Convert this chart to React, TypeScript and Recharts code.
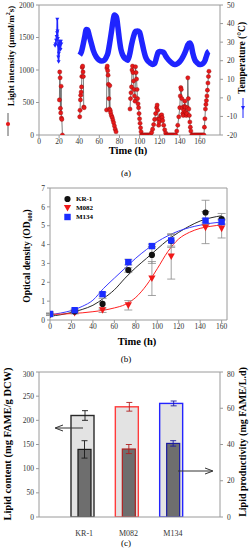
import React from 'react';
import { ComposedChart, Line, Bar, XAxis, YAxis, ReferenceLine, ErrorBar } from 'recharts';

// (a) light intensity (µmol/m2s), [time h, value], one list per light period
const lightDay1 = [[20.3, 540], [20.6, 970], [21.0, 880], [21.3, 410], [21.6, 340], [22.0, 750], [22.3, 260], [22.7, 240], [23.3, 0]];
const lightDay2 = [[40.5, 280], [40.8, 380], [41.2, 540], [41.5, 610], [41.9, 660], [42.3, 740], [42.6, 900], [43.0, 1040], [43.4, 1060], [43.8, 970], [44.1, 900], [44.5, 430], [44.9, 420]];
const lightDay3 = [[67.2, 385], [67.5, 1030], [67.9, 1060], [68.3, 990], [68.7, 920], [69.1, 780], [69.5, 560], [70.0, 400], [70.4, 760], [70.8, 380], [71.3, 340], [72.0, 300], [72.8, 270], [73.5, 230], [74.2, 190], [75.0, 140], [75.8, 90], [76.6, 50]];
const lightDay4 = [[90.5, 400], [91, 560], [91.5, 650], [92, 740], [92.5, 1000], [93, 1060], [93.5, 960], [94, 830], [94.5, 700], [95, 600], [95.5, 520], [96, 1050], [96.5, 960], [97, 860], [97.5, 700], [98, 560], [98.5, 480], [99, 420], [99.5, 330], [100, 250], [100.5, 180], [101, 110], [101.5, 50], [102, 0], [103, 0], [104, 0], [105, 0], [106, 0], [107, 0], [108, 0], [109, 0], [110, 0]];
const lightDay5 = [[111, 0], [112, 40], [113, 90], [114, 160], [115, 240], [116, 330], [117, 420], [117.5, 460], [118, 380], [118.5, 250], [119, 150], [119.5, 200], [120, 250], [121, 300], [122, 310], [122.5, 270], [123, 220], [124, 150], [125, 80], [126, 30], [127, 0], [128, 0], [129, 0], [130, 0], [131, 0], [132, 0], [133, 0], [134, 0], [135, 0]];
const lightDay6 = [[136, 0], [137, 60], [138, 150], [139, 280], [140, 420], [140.5, 600], [141, 730], [141.5, 700], [142, 560], [142.5, 420], [143, 330], [143.5, 300], [144, 380], [144.5, 440], [145, 520], [145.5, 430], [146, 350], [146.5, 300], [147, 330], [147.5, 420], [148, 880], [148.5, 560], [149, 400], [149.5, 300], [150, 200], [150.5, 120], [151, 60], [152, 0], [153, 0], [154, 0], [155, 0], [156, 0], [157, 0], [158, 0], [159, 0], [160, 0], [161, 0], [162, 0], [163, 0]];
const lightDay7 = [[164, 0], [164.5, 120], [165, 250], [165.5, 400], [166, 470], [166.5, 530], [167, 600], [167.5, 690], [168, 800], [168.5, 900], [169, 980]];

// (a) temperature (°C)
const tempStart = [[16, 28], [16.5, 29], [17, 31], [17.5, 33], [18, 35], [18.2, 42.3], [18.4, 36], [18.7, 32], [19, 28], [19.2, 22], [19.5, 19.5], [19.8, 24], [20.2, 28], [20.6, 30.5], [21, 29], [21.4, 26], [21.8, 30.5], [22.2, 29]];
const tempMain = [[40.5, 23], [42, 24.5], [44, 29], [45.5, 33], [47, 36.8], [48.5, 36.5], [50, 33.5], [52, 29.4], [54, 25.5], [57, 22], [60, 20.3], [62, 19.8], [65, 20.3], [67, 22], [68.5, 24], [70, 28.5], [71.8, 34.7], [73.5, 41], [75, 44.6], [77, 43.5], [78.5, 38], [80, 31.2], [81.5, 26], [83.3, 23], [86, 21], [88.2, 20.3], [90, 23], [92, 28.5], [94, 33], [96, 35.8], [98, 36], [100, 35.3], [102, 31], [104, 26], [106, 22], [108, 20], [110.5, 18.8], [113, 18], [115, 18.5], [117, 22], [118.5, 24.5], [120, 25], [122, 24.8], [124, 24.5], [126, 22.5], [128, 21], [130, 19.8], [132, 18.8], [134.5, 18], [136, 18], [138, 18.5], [140, 19.5], [142, 21], [144, 23], [146, 25.5], [148, 28.5], [150, 29.5], [151.5, 28], [153, 24], [155, 20.5], [157, 19], [159.5, 18], [161, 18], [163, 18.5], [165, 20], [166.5, 22.5], [168, 24.5], [169, 25]];

const timeTicksA = [0, 20, 40, 60, 80, 100, 120, 140, 160];
const lightTicks = [0, 500, 1000, 1500, 2000];
const tempTicks = [-20, -10, 0, 10, 20, 30, 40, 50];

// (b) optical density
const odTime = [0, 23, 49, 73, 95, 113, 145, 160];
const odKr1 = [0.3, 0.45, 0.85, 2.65, 3.45, 4.2, 5.7, 5.35];
const odKr1Err = [0.05, 0.08, 0.3, 0.12, 0.45, 0.35, 0.65, 0.3];
const odM082 = [0.3, 0.38, 0.52, 0.78, 2.2, 3.37, 4.9, 4.85];
const odM082Err = [0.05, 0.06, 0.12, 0.25, 0.9, 1.2, 0.85, 0.5];
const odM134 = [0.32, 0.52, 1.37, 3.07, 3.92, 4.22, 5.27, 5.2];
const odM134Err = [0.05, 0.06, 0.1, 0.15, 0.1, 0.3, 0.12, 0.1];

const fitTime = [0, 10, 20, 30, 40, 50, 60, 70, 80, 90, 100, 110, 120, 130, 140, 150, 160];
const fitKr1 = [0.2, 0.28, 0.4, 0.56, 0.78, 1.15, 1.6, 2.22, 2.78, 3.27, 3.77, 4.25, 4.65, 4.98, 5.25, 5.42, 5.53];
const fitM082 = [0.3, 0.31, 0.34, 0.38, 0.44, 0.52, 0.64, 0.82, 1.2, 1.85, 2.72, 3.64, 4.3, 4.65, 4.86, 4.97, 5.04];
const fitM134 = [0.28, 0.37, 0.5, 0.72, 1.05, 1.68, 2.22, 2.75, 3.28, 3.74, 4.15, 4.47, 4.72, 4.9, 5.03, 5.13, 5.2];

const timeTicksB = [0, 20, 40, 60, 80, 100, 120, 140, 160];
const odTicks = [0, 1, 2, 3, 4, 5, 6, 7];

// (c) lipids
const strains = ['KR-1', 'M082', 'M134'];
const lipidContent = [210, 228, 235];
const lipidContentErr = [10, 9, 5];
const lipidProd = [37.3, 37.5, 40.6];
const lipidProdErr = [4.8, 2.5, 1.5];
const strainColors = ['#2a2a2a', '#ff3b3b', '#2424ff'];
const strainDark = ['#1a1a1a', '#b02020', '#1a1aa0'];

const contentTicks = [0, 50, 100, 150, 200, 250, 300];
const prodTicks = [0, 20, 40, 60, 80];

const serif = '"Liberation Serif", "Times New Roman", serif';
const axisColor = '#9a9a9a';
const tickStyle = { fontSize: 7.5, fill: '#333', fontFamily: serif };

const toPoints = (rows: any[]) => rows.map(([t, v]) => ({ t, v }));

const lightData = toPoints([
  ...lightDay1, [30, null], ...lightDay2, [55, null], ...lightDay3, [83, null],
  ...lightDay4, ...lightDay5, ...lightDay6, ...lightDay7,
]);

const odSeries = (vals: number[], errs: number[]) => odTime.map((t, i) => ({ t, v: vals[i], e: errs[i] }));
const fitSeries = (vals: number[]) => fitTime.map((t, i) => ({ t, v: vals[i] }));

const lipidData = strains.map((name, i) => ({
  name,
  content: lipidContent[i],
  contentErr: lipidContentErr[i],
  prod: lipidProd[i],
  prodErr: lipidProdErr[i],
  color: strainColors[i],
  dark: strainDark[i],
}));

function HText({ x, y, size = 10, bold = true, children }: any) {
  return (
    <div style={{ position: 'absolute', left: x, top: y, transform: 'translate(-50%, -50%)', whiteSpace: 'nowrap', fontSize: size, fontWeight: bold ? 700 : 400, lineHeight: 1, fontFamily: serif }}>
      {children}
    </div>
  );
}

function VText({ x, y, size = 10, children }: any) {
  return (
    <div style={{ position: 'absolute', left: x, top: y, transform: 'translate(-50%, -50%) rotate(-90deg)', whiteSpace: 'nowrap', fontSize: size, fontWeight: 700, lineHeight: 1, fontFamily: serif }}>
      {children}
    </div>
  );
}

const redDot = (p: any) => {
  if (p.cx == null || p.cy == null || p.value == null) return <g key={p.key} />;
  return <circle key={p.key} cx={p.cx} cy={p.cy} r={2.1} fill="#e8191a" stroke="#8b0a0a" strokeWidth={0.4} />;
};

const blueTri = (p: any) => {
  if (p.cx == null || p.cy == null) return <g key={p.key} />;
  const { cx, cy } = p;
  return <path key={p.key} d={`M${cx - 2},${cy - 1.5}L${cx + 2},${cy - 1.5}L${cx},${cy + 2}Z`} fill="#1f24ff" />;
};

const mkDot = (kind: string) => (p: any) => {
  if (p.cx == null || p.cy == null) return <g key={p.key} />;
  const { cx, cy } = p;
  if (kind === 'circle') return <circle key={p.key} cx={cx} cy={cy} r={3.1} fill="#111" />;
  if (kind === 'tri') return <path key={p.key} d={`M${cx - 3.6},${cy - 3}L${cx + 3.6},${cy - 3}L${cx},${cy + 3.6}Z`} fill="#f01818" />;
  return <rect key={p.key} x={cx - 3.2} y={cy - 3.2} width={6.4} height={6.4} fill="#1a2cff" />;
};

function PanelA() {
  return (
    <div style={{ position: 'absolute', left: 0, top: 0, width: 251, height: 180 }}>
      <ComposedChart width={251} height={150} margin={{ top: 5, right: 0, bottom: 0, left: 0 }}>
        <XAxis type="number" dataKey="t" domain={[0, 180]} ticks={timeTicksA} height={15} tick={tickStyle} tickSize={3} tickMargin={1} stroke={axisColor} allowDataOverflow />
        <YAxis yAxisId="li" domain={[0, 2000]} ticks={lightTicks} width={39} tick={tickStyle} tickSize={3} tickMargin={2} stroke={axisColor} allowDataOverflow />
        <YAxis yAxisId="temp" orientation="right" domain={[-20, 50]} ticks={tempTicks} width={31} tick={tickStyle} tickSize={3} tickMargin={4} stroke={axisColor} allowDataOverflow />
        <ReferenceLine yAxisId="li" y={2000} stroke={axisColor} />
        <Line yAxisId="temp" data={toPoints(tempMain)} dataKey="v" type="monotone" stroke="#1f24ff" strokeWidth={5.5} dot={false} isAnimationActive={false} />
        <Line yAxisId="temp" data={toPoints(tempStart)} dataKey="v" type="linear" stroke="#1f24ff" strokeWidth={1.6} dot={blueTri} isAnimationActive={false} />
        <Line yAxisId="li" data={lightData} dataKey="v" type="linear" stroke="#5a5a5a" strokeWidth={0.8} dot={redDot} connectNulls={false} isAnimationActive={false} />
      </ComposedChart>
      <VText x={10} y={56} size={9}>Light intensity (μmol/m<sup style={{ fontSize: 6 }}>2</sup>s)</VText>
      <VText x={243} y={58} size={9.5}>Temperature (°C)</VText>
      <svg style={{ position: 'absolute', left: 0, top: 0 }} width={251} height={150}>
        <line x1={8} y1={113} x2={8} y2={136} stroke="#333" strokeWidth={0.8} />
        <circle cx={8} cy={124} r={2.1} fill="#e8191a" />
        <line x1={243} y1={98} x2={243} y2={118} stroke="#1f24ff" strokeWidth={1} />
        <path d="M241,106L245,106L243,110Z" fill="#1f24ff" />
      </svg>
      <HText x={128} y={151} size={10.5}>Time (h)</HText>
      <HText x={126} y={173} size={9} bold={false}>(a)</HText>
    </div>
  );
}

function PanelB() {
  const legend = [
    { label: 'KR-1', kind: 'circle' },
    { label: 'M082', kind: 'tri' },
    { label: 'M134', kind: 'square' },
  ];
  return (
    <div style={{ position: 'absolute', left: 0, top: 180, width: 251, height: 190 }}>
      <ComposedChart width={251} height={155} margin={{ top: 8, right: 24, bottom: 0, left: 0 }}>
        <XAxis type="number" dataKey="t" domain={[0, 165]} ticks={timeTicksB} height={15} tick={tickStyle} tickSize={3} tickMargin={1} stroke={axisColor} allowDataOverflow />
        <YAxis domain={[0, 7]} ticks={odTicks} width={50} tick={tickStyle} tickSize={3} tickMargin={2} stroke={axisColor} allowDataOverflow />
        <ReferenceLine y={7} stroke={axisColor} />
        <ReferenceLine x={165} stroke={axisColor} />
        <Line data={fitSeries(fitKr1)} dataKey="v" type="monotone" stroke="#2a2a2a" strokeWidth={1} dot={false} isAnimationActive={false} />
        <Line data={fitSeries(fitM134)} dataKey="v" type="monotone" stroke="#3a3aff" strokeWidth={1} dot={false} isAnimationActive={false} />
        <Line data={fitSeries(fitM082)} dataKey="v" type="monotone" stroke="#ff2020" strokeWidth={1} dot={false} isAnimationActive={false} />
        <Line data={odSeries(odM082, odM082Err)} dataKey="v" stroke="none" dot={mkDot('tri')} isAnimationActive={false}>
          <ErrorBar dataKey="e" direction="y" width={4} stroke="#8a8a8a" strokeWidth={0.8} />
        </Line>
        <Line data={odSeries(odKr1, odKr1Err)} dataKey="v" stroke="none" dot={mkDot('circle')} isAnimationActive={false}>
          <ErrorBar dataKey="e" direction="y" width={4} stroke="#8a8a8a" strokeWidth={0.8} />
        </Line>
        <Line data={odSeries(odM134, odM134Err)} dataKey="v" stroke="none" dot={mkDot('square')} isAnimationActive={false}>
          <ErrorBar dataKey="e" direction="y" width={4} stroke="#8a8a8a" strokeWidth={0.8} />
        </Line>
      </ComposedChart>
      {legend.map((l, i) => (
        <div key={l.label} style={{ position: 'absolute', left: 63, top: 15 + i * 9, height: 8, display: 'flex', alignItems: 'center' }}>
          <svg width={9} height={8}>{mkDot(l.kind)({ cx: 4.5, cy: 4, key: l.label })}</svg>
          <span style={{ marginLeft: 4, fontSize: 7, fontWeight: 700, fontFamily: serif }}>{l.label}</span>
        </div>
      ))}
      <VText x={28} y={76} size={9.5}>Optical density (OD<sub style={{ fontSize: 6 }}>600</sub>)</VText>
      <HText x={137} y={162} size={10.5}>Time (h)</HText>
      <HText x={126} y={179} size={9} bold={false}>(b)</HText>
    </div>
  );
}

const OuterBar = (p: any) => {
  const { x, y, width, height, payload } = p;
  const k = height / payload.content;
  const ex = x + 14;
  const top = y - payload.contentErr * k;
  const bot = y + payload.contentErr * k;
  return (
    <g>
      <rect x={x} y={y} width={width} height={height} fill="#e3e3e3" stroke={payload.color} strokeWidth={1.4} />
      <line x1={ex} y1={top} x2={ex} y2={bot} stroke={payload.dark} strokeWidth={0.9} />
      <line x1={ex - 3} y1={top} x2={ex + 3} y2={top} stroke={payload.dark} strokeWidth={0.9} />
      <line x1={ex - 3} y1={bot} x2={ex + 3} y2={bot} stroke={payload.dark} strokeWidth={0.9} />
    </g>
  );
};

const InnerBar = (p: any) => {
  const { x, y, width, height, payload } = p;
  const k = height / payload.prod;
  const ex = x + width / 2;
  const top = y - payload.prodErr * k;
  const bot = y + payload.prodErr * k;
  return (
    <g>
      <rect x={x} y={y} width={width} height={height} fill="#6e6e6e" stroke={payload.dark} strokeWidth={1.2} />
      <line x1={ex} y1={top} x2={ex} y2={bot} stroke={payload.dark} strokeWidth={0.9} />
      <line x1={ex - 3} y1={top} x2={ex + 3} y2={top} stroke={payload.dark} strokeWidth={0.9} />
      <line x1={ex - 3} y1={bot} x2={ex + 3} y2={bot} stroke={payload.dark} strokeWidth={0.9} />
    </g>
  );
};

function PanelC() {
  return (
    <div style={{ position: 'absolute', left: 0, top: 370, width: 251, height: 180 }}>
      <ComposedChart width={251} height={170} data={lipidData} margin={{ top: 2, right: 0, bottom: 0, left: 0 }} barGap={-16}>
        <XAxis dataKey="name" padding={{ left: 20, right: 28 }} height={23} tick={{ ...tickStyle, fontSize: 8, dx: 3 }} tickLine={false} tickMargin={7} stroke={axisColor} />
        <YAxis yAxisId="c" domain={[0, 300]} ticks={contentTicks} width={39} tick={tickStyle} tickSize={3} tickMargin={2} stroke={axisColor} allowDataOverflow />
        <YAxis yAxisId="p" orientation="right" domain={[0, 80]} ticks={prodTicks} width={31} tick={tickStyle} tickSize={3} tickMargin={4} stroke={axisColor} allowDataOverflow />
        <ReferenceLine yAxisId="c" y={300} stroke={axisColor} />
        <Bar yAxisId="c" dataKey="content" barSize={23} shape={OuterBar} isAnimationActive={false} />
        <Bar yAxisId="p" dataKey="prod" barSize={13} shape={InnerBar} isAnimationActive={false} />
      </ComposedChart>
      <svg style={{ position: 'absolute', left: 0, top: 0 }} width={251} height={170}>
        <line x1={83} y1={58} x2={56} y2={58} stroke="#333" strokeWidth={1} />
        <path d="M63,55L55,58L63,61" fill="none" stroke="#333" strokeWidth={1} />
        <line x1={178} y1={101} x2={212} y2={101} stroke="#333" strokeWidth={1} />
        <path d="M205,98L213,101L205,104" fill="none" stroke="#333" strokeWidth={1} />
      </svg>
      <VText x={8} y={74} size={10.5}>Lipid content (mg FAME/g DCW)</VText>
      <VText x={243} y={72} size={10}>Lipid productivity (mg FAME/L.d)</VText>
      <HText x={126} y={173} size={9} bold={false}>(c)</HText>
    </div>
  );
}

export default function App() {
  return (
    <div style={{ position: 'absolute', left: 0, top: 0, width: 251, height: 550, background: '#fff', overflow: 'hidden' }}>
      <PanelA />
      <PanelB />
      <PanelC />
    </div>
  );
}
